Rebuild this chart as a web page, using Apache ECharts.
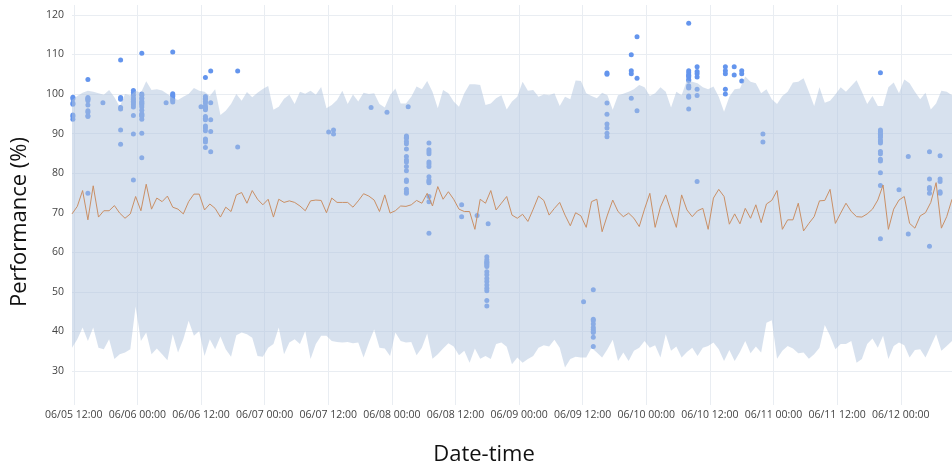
<!DOCTYPE html>
<html>
<head>
<meta charset="utf-8">
<script src="https://cdn.jsdelivr.net/npm/echarts@6/dist/echarts.min.js"></script>
<style>
  html, body { margin: 0; padding: 0; background: #fff; }
  #chart { width: 952px; height: 466px; }
</style>
</head>
<body>
<div id="chart"></div>
<script>
// Hourly readings, first sample at 06/05 11:40
const startTime = '2024-06-05T11:40:00';
const stepHours = 1;

// Time-axis grid positions (every 12 hours)
const xTickLabels = [
  '2024-06-05 12:00', '2024-06-06 00:00', '2024-06-06 12:00', '2024-06-07 00:00',
  '2024-06-07 12:00', '2024-06-08 00:00', '2024-06-08 12:00', '2024-06-09 00:00',
  '2024-06-09 12:00', '2024-06-10 00:00', '2024-06-10 12:00', '2024-06-11 00:00',
  '2024-06-11 12:00', '2024-06-12 00:00'
];

// Upper edge of the expected-performance band (%)
const upperBand = [
  98.5, 99.5, 100.3, 100.8, 100.6, 100.2, 99.8, 101.0, 99.2, 96.8,
  100.0, 99.6, 100.8, 100.3, 103.2, 101.0, 101.2, 100.9, 100.0, 99.0,
  98.5, 99.3, 100.0, 101.5, 100.8, 100.6, 99.5, 101.2, 94.7, 95.8,
  97.5, 100.0, 98.3, 100.5, 99.2, 100.3, 101.3, 102.0, 96.0, 96.8,
  98.8, 99.8, 97.5, 100.6, 100.1, 100.8, 99.8, 101.8, 96.4, 97.2,
  98.5, 100.8, 97.5, 99.9, 98.1, 100.3, 100.0, 100.2, 97.5, 96.6,
  99.7, 101.4, 97.6, 97.6, 99.3, 101.9, 101.2, 103.3, 100.6, 96.4,
  101.0, 100.2, 98.1, 96.8, 100.2, 102.5, 102.5, 102.3, 97.2, 97.6,
  98.9, 99.7, 96.1, 98.1, 99.3, 103.1, 100.8, 101.0, 99.3, 99.9,
  99.7, 100.2, 97.0, 99.3, 98.7, 103.4, 103.3, 100.2, 99.5, 98.9,
  100.3, 99.7, 96.0, 99.7, 100.1, 100.6, 101.2, 102.3, 101.7, 99.5,
  100.2, 101.7, 100.6, 96.6, 100.6, 99.7, 103.5, 103.1, 102.7, 101.7,
  101.2, 101.9, 99.3, 95.5, 99.3, 101.2, 101.4, 104.4, 103.1, 102.7,
  100.2, 101.2, 98.7, 97.5, 99.5, 100.6, 102.9, 103.1, 104.0, 100.6,
  97.0, 101.7, 97.8, 98.3, 99.9, 101.7, 100.6, 102.0, 103.5, 100.6,
  97.5, 99.5, 97.0, 97.0, 101.7, 102.9, 100.2, 103.7, 102.7, 100.6,
  98.7, 100.3, 96.1, 97.6, 100.8, 100.6, 99.7
];

// Lower edge of the band (%)
const lowerBand = [
  35.9, 38.0, 41.0, 37.6, 41.0, 35.9, 35.5, 38.0, 33.0, 34.2,
  34.7, 35.5, 46.3, 37.6, 39.7, 34.2, 35.7, 34.2, 32.7, 39.3,
  34.7, 38.0, 42.7, 38.9, 40.1, 33.8, 38.0, 35.5, 38.7, 35.5,
  33.6, 39.0, 39.7, 39.3, 38.4, 33.8, 33.6, 35.9, 36.8, 41.0,
  34.2, 37.2, 38.0, 36.8, 40.1, 33.0, 36.8, 38.9, 38.9, 37.6,
  37.3, 37.2, 37.3, 37.0, 37.2, 33.4, 37.2, 40.5, 35.9, 35.7,
  33.8, 39.7, 37.6, 37.2, 37.3, 34.0, 35.9, 39.5, 33.1, 34.2,
  35.7, 37.0, 36.2, 34.0, 35.1, 32.1, 35.7, 33.1, 33.8, 33.0,
  36.8, 37.2, 36.1, 31.7, 33.4, 32.1, 33.0, 33.8, 35.9, 36.5,
  36.2, 37.9, 35.9, 30.9, 33.0, 33.6, 33.4, 33.4, 35.9, 34.7,
  33.4, 35.5, 37.9, 32.5, 34.7, 32.5, 35.1, 35.9, 37.6, 35.9,
  36.5, 33.4, 39.3, 35.1, 36.2, 33.4, 34.8, 35.9, 33.8, 35.9,
  36.3, 37.2, 35.5, 32.5, 35.3, 32.5, 34.8, 37.6, 34.5, 36.2,
  34.7, 42.2, 42.8, 33.1, 35.1, 36.3, 35.7, 34.5, 34.7, 33.1,
  34.2, 35.9, 41.6, 38.9, 35.5, 36.8, 36.8, 37.6, 32.1, 33.0,
  36.8, 38.2, 35.9, 38.9, 33.0, 36.3, 37.2, 36.5, 33.4, 35.3,
  35.5, 33.4, 36.3, 39.3, 35.1, 36.3, 37.6
];

// Mean expected performance (%)
const meanLine = [
  69.7, 71.6, 75.6, 68.2, 76.8, 68.9, 70.5, 70.5, 71.8, 69.9,
  68.6, 69.7, 74.1, 70.5, 77.2, 70.9, 73.7, 72.8, 74.2, 71.4,
  70.9, 69.7, 72.8, 74.7, 74.7, 70.7, 72.2, 71.1, 68.9, 71.4,
  70.3, 74.5, 75.1, 72.4, 75.6, 73.4, 72.0, 73.4, 68.9, 73.4,
  72.6, 73.0, 72.6, 71.7, 70.5, 73.0, 73.2, 73.1, 70.0, 73.7,
  72.6, 72.6, 72.6, 71.4, 73.0, 74.8, 74.2, 73.2, 70.3, 74.5,
  69.9, 70.5, 71.7, 71.6, 72.0, 73.1, 72.4, 74.9, 71.7, 76.6,
  73.4, 75.3, 73.4, 70.9, 70.3, 70.3, 65.8, 73.4, 72.4, 75.6,
  70.7, 72.4, 74.1, 69.4, 68.6, 69.6, 67.8, 70.9, 74.2, 73.1,
  69.4, 71.1, 72.6, 69.4, 66.7, 70.0, 69.2, 66.3, 72.8, 73.4,
  65.2, 69.4, 73.2, 70.3, 69.0, 69.9, 68.6, 66.5, 70.9, 74.9,
  66.3, 71.4, 74.5, 70.3, 66.3, 74.5, 70.7, 69.0, 70.5, 71.1,
  65.8, 73.7, 75.9, 74.1, 67.1, 69.7, 67.2, 71.1, 68.6, 72.0,
  67.5, 72.2, 73.1, 75.6, 65.8, 68.2, 68.2, 72.4, 65.4, 67.3,
  69.0, 73.0, 73.1, 75.9, 67.3, 69.9, 72.4, 70.3, 69.0, 68.9,
  69.7, 70.9, 73.2, 77.0, 65.8, 70.9, 73.2, 74.1, 67.3, 66.1,
  69.2, 70.0, 72.6, 77.6, 66.1, 69.0, 73.4
];

// Measured performance: sampling times and the values taken at each
const obsTimes = [
  '2024-06-05 11:50', '2024-06-05 14:40', '2024-06-05 17:30', '2024-06-05 20:50',
  '2024-06-05 23:15', '2024-06-06 00:50', '2024-06-06 05:25', '2024-06-06 06:40',
  '2024-06-06 12:00', '2024-06-06 12:50', '2024-06-06 13:50', '2024-06-06 18:55',
  '2024-06-07 12:05', '2024-06-07 13:00', '2024-06-07 20:05', '2024-06-07 23:05',
  '2024-06-08 03:05', '2024-06-08 02:45', '2024-06-08 07:00', '2024-06-08 13:10',
  '2024-06-08 16:05', '2024-06-08 18:10', '2024-06-08 17:55', '2024-06-09 12:10',
  '2024-06-09 14:00', '2024-06-09 16:35', '2024-06-09 21:10', '2024-06-09 22:15',
  '2024-06-10 08:00', '2024-06-10 09:35', '2024-06-10 14:55', '2024-06-10 16:35',
  '2024-06-10 18:00', '2024-06-10 22:00', '2024-06-11 20:10', '2024-06-11 23:40',
  '2024-06-12 01:25', '2024-06-12 05:25', '2024-06-12 07:25'
];
const obsValues = [
  [99.2, 98.8, 97.7, 97.4, 94.7, 94.3, 93.6],
  [103.7, 99.1, 98.8, 98.7, 98.3, 97.2, 95.8, 95.4, 94.5, 94.3, 74.9],
  [97.8],
  [108.6, 99.1, 98.7, 96.6, 96.2, 90.9, 87.3],
  [100.9, 100.4, 99.7, 99.0, 98.7, 98.2, 97.8, 97.3, 96.7, 94.6, 89.9, 78.3],
  [110.3, 100.0, 99.7, 99.0, 98.8, 98.2, 97.8, 97.6, 97.2, 96.7, 95.9, 95.0, 94.8, 94.6, 94.4, 93.6, 90.1, 83.9],
  [97.8],
  [110.6, 100.1, 99.7, 99.4, 98.8, 98.4, 98.0],
  [96.8],
  [104.2, 99.4, 98.9, 98.7, 98.1, 97.7, 97.0, 96.5, 96.4, 96.0, 94.3, 93.9, 93.5, 91.9, 91.4, 90.7, 88.6, 88.4, 87.9, 86.5],
  [105.8, 97.8, 93.5, 90.5, 85.4],
  [105.8, 86.6],
  [90.4],
  [90.9, 89.9],
  [96.6],
  [95.4],
  [96.8],
  [89.4, 89.1, 88.8, 88.0, 87.4, 86.1, 84.2, 83.3, 82.8, 81.7, 80.6, 78.3, 77.9, 75.9, 75.3, 74.9],
  [87.6, 85.9, 85.4, 84.9, 82.8, 82.3, 81.7, 79.1, 78.3, 77.9, 77.6, 74.1, 72.8, 64.8],
  [72.0, 69.0],
  [69.3],
  [67.2],
  [58.9, 58.1, 57.6, 57.4, 57.1, 56.8, 56.4, 55.1, 54.3, 53.4, 52.6, 51.7, 50.9, 50.3, 47.8, 46.4],
  [47.5],
  [50.5, 43.1, 42.7, 41.9, 41.0, 40.5, 40.0, 39.7, 38.5, 36.2],
  [105.3, 105.0, 97.7, 94.9, 92.4, 91.4, 90.1, 89.2],
  [109.9, 105.9, 105.1, 98.9],
  [114.5, 104.0, 95.8],
  [117.9, 105.9, 105.4, 104.8, 104.6, 104.3, 103.7, 103.4, 102.1, 101.7, 101.5, 99.5, 99.2, 96.2],
  [106.9, 105.7, 105.1, 104.3, 101.2, 99.6, 77.9],
  [106.9, 105.9, 105.1, 101.2, 100.0],
  [106.9, 104.8],
  [105.9, 105.1, 103.3],
  [89.9, 87.9],
  [105.4, 90.9, 90.5, 90.1, 89.8, 89.4, 89.1, 88.4, 88.0, 87.6, 85.5, 84.9, 83.5, 83.1, 80.1, 76.9, 63.4],
  [75.8],
  [84.2, 64.6],
  [85.4, 78.5, 76.4, 75.9, 74.9, 61.5],
  [84.4, 78.5, 77.9, 75.3, 74.9]
];

// Axis ranges
const yMin = 21.4, yMax = 122.5, yStep = 10;

const HOUR = 3600 * 1000;
const t0 = new Date(startTime).getTime();
const times = upperBand.map((_, i) => t0 + i * stepHours * HOUR);
const xTicks = xTickLabels.map(s => new Date(s.replace(' ', 'T') + ':00').getTime());

// Band drawn as a stacked pair: invisible lower edge + filled width on top
const lowerPts = times.map((t, i) => [t, lowerBand[i]]);
const widthPts = times.map((t, i) => [t, +(upperBand[i] - lowerBand[i]).toFixed(2)]);
const meanPts = times.map((t, i) => [t, meanLine[i]]);
const obsPts = [];
obsTimes.forEach((t, k) => obsValues[k].forEach(v => obsPts.push([t, v])));

const tickFont = { color: '#444', fontSize: 10.5, fontFamily: '"Open Sans", "Noto Sans", sans-serif' };
const gridColor = '#e9edf2';
const pad = n => (n < 10 ? '0' : '') + n;

const chart = echarts.init(document.getElementById('chart'), null, { renderer: 'canvas' });
chart.setOption({
  animation: false,
  backgroundColor: '#fff',
  grid: { left: 72, right: 0, top: 5, bottom: 61, containLabel: false },
  xAxis: {
    type: 'time',
    min: times[0],
    max: times[times.length - 1],
    minInterval: 12 * HOUR,
    maxInterval: 12 * HOUR,
    axisLine: { show: false },
    axisTick: { show: false },
    axisLabel: Object.assign({
      // only the 00:00 and 12:00 ticks carry a label
      formatter: function (val) {
        const d = new Date(val);
        if (d.getMinutes() !== 0 || d.getHours() % 12 !== 0) return '';
        return pad(d.getMonth() + 1) + '/' + pad(d.getDate()) + ' ' + pad(d.getHours()) + ':00';
      },
      margin: 5,
      hideOverlap: false
    }, tickFont),
    splitLine: { show: false }
  },
  yAxis: {
    type: 'value',
    min: yMin,
    max: yMax,
    minInterval: yStep,
    maxInterval: yStep,
    axisLine: { show: false },
    axisTick: { show: false },
    axisLabel: Object.assign({ margin: 8, showMinLabel: false, showMaxLabel: false }, tickFont),
    splitLine: { show: true, showMinLine: false, showMaxLine: false, lineStyle: { color: gridColor, width: 1 } }
  },
  graphic: [
    {
      type: 'text', x: 20, y: 222, rotation: Math.PI / 2,
      style: { text: 'Performance (%)', fill: '#111', font: '22px "Open Sans", "Noto Sans", sans-serif', align: 'center', verticalAlign: 'middle' }
    },
    {
      type: 'text', x: 484, y: 455,
      style: { text: 'Date-time', fill: '#111', font: '22px "Open Sans", "Noto Sans", sans-serif', align: 'center', verticalAlign: 'middle' }
    }
  ],
  series: [
    {
      name: 'lower', type: 'line', stack: 'band', data: lowerPts,
      symbol: 'none', lineStyle: { width: 0, opacity: 0 }, silent: true,
      // vertical grid lines at the 12-hour positions, kept beneath the band
      markLine: {
        silent: true, symbol: 'none', label: { show: false }, z: 0,
        lineStyle: { color: gridColor, width: 1, type: 'solid' },
        data: xTicks.map(t => ({ xAxis: t }))
      }
    },
    {
      name: 'band', type: 'line', stack: 'band', data: widthPts,
      symbol: 'none', lineStyle: { width: 0, opacity: 0 },
      areaStyle: { color: 'rgba(176,196,222,0.5)', opacity: 1 }, silent: true
    },
    {
      name: 'mean', type: 'line', data: meanPts, symbol: 'none',
      lineStyle: { color: '#c98f65', width: 1 }
    },
    {
      name: 'measured', type: 'scatter', data: obsPts, symbolSize: 5,
      itemStyle: { color: '#6495ed', opacity: 1 }
    }
  ]
});
</script>
</body>
</html>
